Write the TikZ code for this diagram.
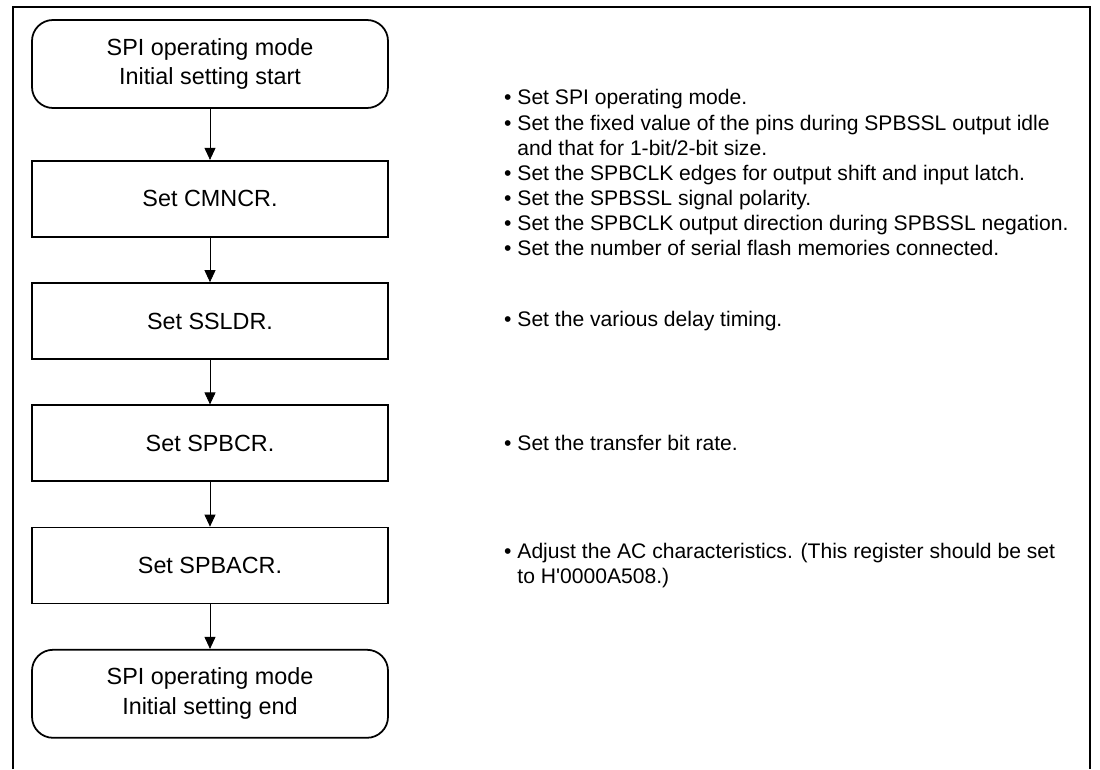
\documentclass[tikz,border=0pt]{standalone}
\usepackage{fontspec}
\setmainfont{Liberation Sans}
\usepackage{tikz}
\usetikzlibrary{arrows.meta,positioning,calc}

\begin{document}
\begin{tikzpicture}[
  term/.style={draw, line width=1pt, rounded corners=0.42cm, minimum width=7.12cm, minimum height=1.76cm, align=center, font=\fontsize{13.3}{17}\selectfont},
  proc/.style={draw, line width=1pt, minimum width=7.12cm, minimum height=1.52cm, align=center, font=\fontsize{13.3}{17}\selectfont},
  note/.style={anchor=west, align=left, inner sep=0pt, font=\fontsize{12}{14.3}\selectfont},
  flow/.style={-{Triangle[length=2.4mm, width=2.2mm]}, line width=0.5pt},
  node distance=0.89cm]
\useasboundingbox (0,0) rectangle (22,-15.38);
\draw[line width=1.3pt] (0.26,-15.38) |- (21.8,-0.14) -- (21.8,-15.38);

\node[term] (b0) at (4.2,-1.28) {SPI operating mode\\Initial setting start};
\node[proc, below=1.02cm of b0] (b1) {Set CMNCR.};
\node[proc, below=of b1] (b2) {Set SSLDR.};
\node[proc, below=of b2] (b3) {Set SPBCR.};
\node[proc, below=of b3] (b4) {Set SPBACR.};
\node[term, below=of b4] (b5) {SPI operating mode\\Initial setting end};

\node[note] (t1) at ($(b1.east)+(2.3,0.52)$) {%
  • Set SPI operating mode.\\
  • Set the fixed value of the pins during SPBSSL output idle\\
  \hphantom{• }and that for 1-bit/2-bit size.\\
  • Set the SPBCLK edges for output shift and input latch.\\
  • Set the SPBSSL signal polarity.\\
  • Set the SPBCLK output direction during SPBSSL negation.\\
  • Set the number of serial flash memories connected.};
\node[note] (t2) at ($(b2.east)+(2.3,0)$) {• Set the various delay timing.};
\node[note] (t3) at ($(b3.east)+(2.3,0)$) {• Set the transfer bit rate.};
\node[note] (t4) at ($(b4.east)+(2.3,0)$) {%
  • Adjust the AC characteristics. (This register should be set\\
  \hphantom{• }to H\textquotesingle 0000A508.)};

\draw[flow] (b0) -- (b1);
\draw[flow] (b1) -- (b2);
\draw[flow] (b2) -- (b3);
\draw[flow] (b3) -- (b4);
\draw[flow] (b4) -- (b5);
\end{tikzpicture}
\end{document}
